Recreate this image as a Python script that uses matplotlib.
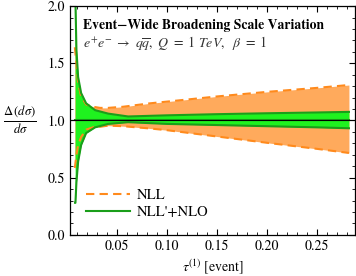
import matplotlib
matplotlib.use("Agg")
import matplotlib.pyplot as plt
from matplotlib.ticker import MultipleLocator
from matplotlib.lines import Line2D

plt.rcParams['font.family'] = ['STIXGeneral', 'DejaVu Serif']
plt.rcParams['mathtext.fontset'] = 'stix'

# NLL band (orange)
tau_nll = [0.0077, 0.0093, 0.011, 0.014, 0.019, 0.026, 0.033, 0.041, 0.056, 0.083, 0.1,
           0.15, 0.2, 0.25, 0.282]
nll_up = [1.64, 1.50, 1.33, 1.21, 1.14, 1.12, 1.11, 1.11, 1.12, 1.15, 1.165,
          1.21, 1.25, 1.285, 1.31]
nll_lo = [0.585, 0.70, 0.785, 0.855, 0.92, 0.94, 0.945, 0.955, 0.95, 0.93, 0.915,
          0.86, 0.805, 0.752, 0.716]

# NLL'+NLO band (green)
tau_nlo = [0.0080, 0.0083, 0.0093, 0.011, 0.014, 0.019, 0.028, 0.041, 0.061, 0.1,
           0.15, 0.2, 0.25, 0.282]
nlo_up = [2.6, 2.05, 1.62, 1.38, 1.24, 1.15, 1.09, 1.06, 1.035, 1.045,
          1.055, 1.063, 1.07, 1.075]
nlo_lo = [0.28, 0.28, 0.46, 0.64, 0.785, 0.89, 0.94, 0.97, 0.985, 0.97,
          0.96, 0.95, 0.94, 0.932]
nlo_mid = [1.0] * len(tau_nlo)

orange_fill = '#ffaa5c'
orange_line = '#ff8a1c'
green_fill = '#1ff21f'
green_line = '#1a9e1a'

fig = plt.figure(figsize=(3.56, 2.76), dpi=100)
ax = fig.add_axes([0.197, 0.149, 0.8, 0.829])

ax.fill_between(tau_nll, nll_lo, nll_up, color=orange_fill, lw=0)
ax.plot(tau_nll, nll_up, color=orange_line, lw=1.5, dashes=(4, 2.5))
ax.plot(tau_nll, nll_lo, color=orange_line, lw=1.5, dashes=(4, 2.5))

ax.fill_between(tau_nlo, nlo_lo, nlo_up, color=green_fill, lw=0)
ax.plot(tau_nlo, nlo_up, color=green_line, lw=1.5)
ax.plot(tau_nlo, nlo_lo, color=green_line, lw=1.5)
ax.plot(tau_nlo, nlo_mid, color=green_line, lw=1.5)
ax.axhline(1.0, color='black', lw=0.8)

ax.set_xlim(0.003, 0.288)
ax.set_ylim(0, 2.0)
ax.xaxis.set_major_locator(MultipleLocator(0.05))
ax.xaxis.set_minor_locator(MultipleLocator(0.01))
ax.yaxis.set_major_locator(MultipleLocator(0.5))
ax.yaxis.set_minor_locator(MultipleLocator(0.1))
ax.xaxis.set_major_formatter(plt.FuncFormatter(lambda v, p: '%.2f' % v))
ax.yaxis.set_major_formatter(plt.FuncFormatter(lambda v, p: '%.1f' % v))
ax.tick_params(which='both', direction='in', top=True, right=True, labelsize=10)
ax.tick_params(which='major', length=4, width=0.8)
ax.tick_params(which='minor', length=2, width=0.6)
for s in ax.spines.values():
    s.set_linewidth(0.9)

ax.set_xlabel(r'$\tau^{(1)}$ [event]', fontsize=10, labelpad=3)
ax.set_ylabel(r'$\frac{\Delta\,(d\sigma)}{d\sigma}$', fontsize=13, rotation=0,
              labelpad=20, va='center')

ax.text(0.046, 0.917, 'Event\u2212Wide Broadening Scale Variation', transform=ax.transAxes,
        fontsize=9.8, fontweight='bold', va='center')
ax.text(0.046, 0.834,
        r'$e^{+}e^{-}\ \rightarrow\ q\overline{q},\ Q\ =\ 1\ TeV,\ \ \beta\ =\ 1$',
        transform=ax.transAxes, fontsize=10, va='center', color='#333333')

handles = [Line2D([], [], color=orange_line, lw=1.5, dashes=(4, 2.5)),
           Line2D([], [], color=green_line, lw=1.5)]
ax.legend(handles, ['NLL', "NLL'+NLO"], loc='lower left', bbox_to_anchor=(0.01, 0.01),
          frameon=False, fontsize=10.5, handlelength=3.0, handletextpad=0.5,
          labelspacing=0.3)

fig.savefig('out.png', dpi=100)
